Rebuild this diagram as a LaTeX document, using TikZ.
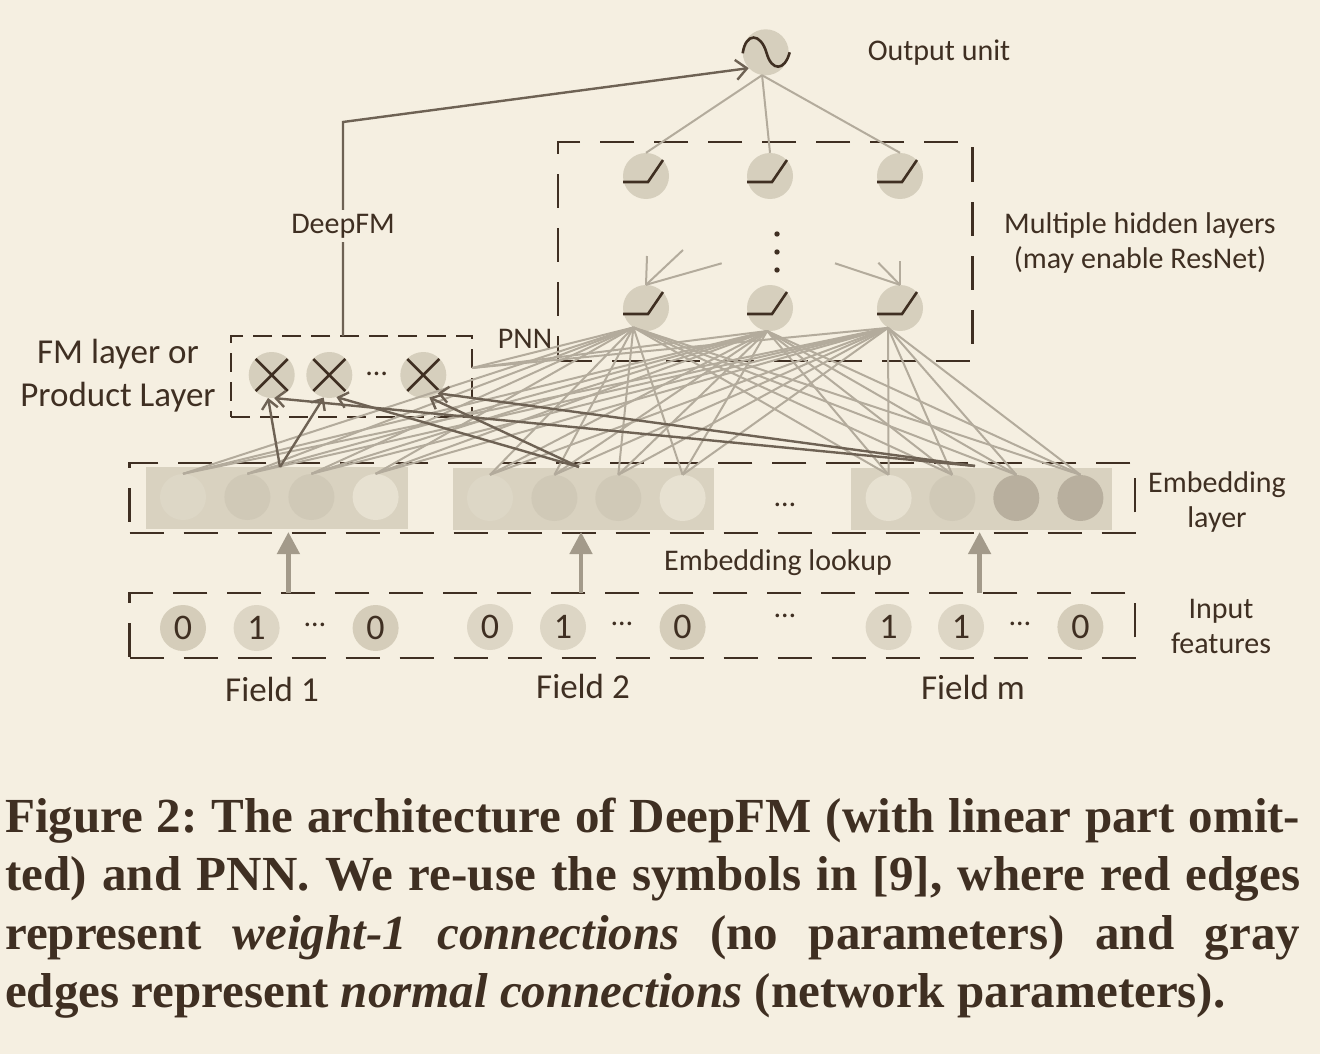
\documentclass[tikz,border=0pt]{standalone}
\usepackage{fontspec}
\setmainfont{Liberation Serif}
\newfontfamily\diag{Carlito}
\usetikzlibrary{arrows.meta}
\definecolor{bg}{HTML}{F5EFE1}
\definecolor{ink}{HTML}{3F2F22}
\definecolor{edgec}{HTML}{B3AB9C}
\definecolor{darkc}{HTML}{6E6254}
\definecolor{unitc}{HTML}{D6CFBD}
\definecolor{slabc}{HTML}{D9D2C0}
\definecolor{lookc}{HTML}{A39A8A}
\definecolor{eA}{HTML}{DDD7C6}
\definecolor{eB}{HTML}{D0C9B7}
\definecolor{eC}{HTML}{E7E1D1}
\definecolor{eD}{HTML}{B8AF9E}
\definecolor{inA}{HTML}{D5CDBA}
\definecolor{inB}{HTML}{DDD6C5}
\begin{document}
\begin{tikzpicture}[x=1pt,y=-1pt,
  lbl/.style={font=\diag\fontsize{30}{35}\selectfont, text=ink, inner sep=0pt, align=center},
  biglbl/.style={font=\diag\fontsize{35}{43}\selectfont, text=ink, inner sep=0pt, align=center},
  neuron/.style={circle, fill=unitc, minimum size=46pt, inner sep=0pt},
  emb/.style={circle, minimum size=46pt, inner sep=0pt},
  inunit/.style={circle, minimum size=46pt, inner sep=0pt, font=\diag\fontsize{36}{36}\selectfont, text=ink},
  dotsnode/.style={font=\diag\fontsize{30}{30}\selectfont, text=ink, inner sep=0pt},
  dbox/.style={rectangle, draw=ink, line width=2.6pt, dash pattern=on 34pt off 20pt, inner sep=0pt},
  fmbox/.style={rectangle, draw=ink, line width=2.4pt, dash pattern=on 19pt off 10pt, inner sep=0pt},
  slab/.style={rectangle, fill=slabc, minimum width=262pt, minimum height=62pt, inner sep=0pt},
  gedge/.style={draw=edgec, line width=2pt},
  darr/.style={draw=darkc, line width=2.4pt, -{Straight Barb[length=9pt,width=16pt]}},
  dfmarr/.style={draw=darkc, line width=2.4pt, -{Straight Barb[length=11pt,width=20pt]}},
  lookarr/.style={draw=lookc, line width=4.6pt, -{Triangle[length=22pt,width=22pt]}},
  glyph/.style={draw=ink, line width=2.6pt},
]
\fill[bg] (0,0) rectangle (1320,1054);
\useasboundingbox (0,0) rectangle (1320,1054);

% dashed boxes
\node[dbox, minimum width=414.5pt, minimum height=219pt] (hbox) at (765.25,251.5) {};
\node[fmbox, minimum width=241pt, minimum height=81pt] (fm) at (351.5,376.5) {};
\node[dbox, minimum width=1005.4pt, minimum height=70pt] (ebox) at (632.3,498) {};
\node[dbox, minimum width=1005.4pt, minimum height=65pt] (ibox) at (632.3,625.5) {};

% embedding slabs and units
\node[slab] (s1) at (277,498) {};
\node[slab, minimum width=261pt] (s2) at (583.5,499) {};
\node[slab, minimum width=261pt] (sm) at (981.7,499) {};
\node[emb, fill=eA] (a1) at (183,497) {};
\node[emb, fill=eB] (a2) at (247.4,497) {};
\node[emb, fill=eB] (a3) at (311.4,497) {};
\node[emb, fill=eC] (a4) at (375.6,497) {};
\node[emb, fill=eA] (b1) at (490,498) {};
\node[emb, fill=eB] (b2) at (554.4,498) {};
\node[emb, fill=eB] (b3) at (618.3,498) {};
\node[emb, fill=eC] (b4) at (682.6,498) {};
\node[emb, fill=eC] (m1) at (888.6,498) {};
\node[emb, fill=eB] (m2) at (952.3,498) {};
\node[emb, fill=eD] (m3) at (1016.3,498) {};
\node[emb, fill=eD] (m4) at (1080.4,498) {};
\node[dotsnode] (edots) at (785,505) {…};

% input units
\node[inunit, fill=inA] (x11) at (183,628) {0};
\node[inunit, fill=inB] (x12) at (256.6,628) {1};
\node[dotsnode] (x1d) at (315,625) {…};
\node[inunit, fill=inA] (x13) at (375.6,628) {0};
\node[inunit, fill=inB] (x21) at (490,627) {0};
\node[inunit, fill=inB] (x22) at (563,627) {1};
\node[dotsnode] (x2d) at (622,624) {…};
\node[inunit, fill=inA] (x23) at (682.6,627) {0};
\node[dotsnode] (idots) at (785,616) {…};
\node[inunit, fill=inB] (xm1) at (888.6,627) {1};
\node[inunit, fill=inB] (xm2) at (961,627) {1};
\node[dotsnode] (xmd) at (1020,624) {…};
\node[inunit, fill=inA] (xm3) at (1080.4,627) {0};

% hidden, product and output neurons
\node[neuron] (out) at (765.7,52.3) {};
\node[neuron] (h11) at (646,176) {};
\node[neuron] (h12) at (770,176) {};
\node[neuron] (h13) at (900,176) {};
\node[neuron] (h21) at (646,308) {};
\node[neuron] (h22) at (770,308) {};
\node[neuron] (h23) at (900,308) {};
\node[neuron] (p1) at (271.7,375) {};
\node[neuron] (p2) at (329.3,375) {};
\node[neuron] (p3) at (423.3,375) {};
\node[dotsnode] (pdots) at (376.7,374) {…};

% glyphs
\begin{scope}[shift={(out.center)}]
  \draw[glyph] (-23,1) .. controls (-20,-20) and (-5,-20) .. (1,1) .. controls (6,19) and (19,19) .. (24,0);
\end{scope}
\foreach \n in {h11,h12,h13,h21,h22,h23}{
  \begin{scope}[shift={(\n.center)}]
    \draw[glyph] (-23,6) -- (2,6) -- (17,-16);
  \end{scope}
}
\foreach \n in {p1,p2,p3}{
  \begin{scope}[shift={(\n.center)}]
    \draw[glyph] (-16,-16) -- (16,16) (-16,16) -- (16,-16);
  \end{scope}
}
\fill[ink] (777,234) circle (2.7pt) (777,252) circle (2.7pt) (777,270) circle (2.7pt);

% gray edges: embeddings to first hidden layer
\coordinate (fmo) at (472,368);
\foreach \u in {a1,a2,a3,a4,b1,b2,b3,b4,m1,m2,m3,m4}{
  \draw[gedge] (\u.north) -- (h21.-123);
  \draw[gedge] (\u.north) -- (h22.-97);
  \draw[gedge] (\u.north) -- (h23.-121);
}
\draw[gedge] (fmo) -- (h21.-123);
\draw[gedge] (fmo) -- (h22.-97);
\draw[gedge] (fmo) -- (h23.-121);

% residual hints
\coordinate (r1) at (647,256);
\coordinate (r2) at (683,250);
\coordinate (r3) at (721.7,263.3);
\coordinate (r4) at (900,261);
\coordinate (r5) at (878.3,262.7);
\coordinate (r6) at (835,263.3);
\foreach \r in {r1,r2,r3} \draw[gedge] (\r) -- (h21.north);
\foreach \r in {r4,r5,r6} \draw[gedge] (\r) -- (h23.north);

% hidden to output
\draw[gedge] (h11.north) -- (out.-99);
\draw[gedge] (h12.north) -- (out.-99);
\draw[gedge] (h13.north) -- (out.-99);

% weight-1 edges to product layer
\coordinate (d1) at (280,467);
\coordinate (d2) at (579,467);
\coordinate (dm) at (975,466);
\draw[darr] (d1) -- (p1.-99);
\draw[darr] (d1) -- (p2.-104);
\draw[darr] (dm) -- (p1.-84);
\draw[darr] (d2) -- (p2.-72);
\draw[darr] (d2) -- (p3.-75);
\draw[darr] (dm) -- (p3.-52);

% DeepFM connection
\coordinate (fmtop) at (343,336);
\coordinate (dcorner) at (343,122);
\draw[dfmarr] (fmtop) -- (dcorner) -- (out.-137);
\node[lbl, fill=bg, inner sep=4pt] (dfl) at (343,226) {DeepFM};

% embedding lookup arrows
\coordinate (l1s) at (288.4,593);
\coordinate (l1e) at (288.4,532);
\coordinate (l2s) at (581,593);
\coordinate (l2e) at (581,532);
\coordinate (l3s) at (979.6,593);
\coordinate (l3e) at (979.6,532);
\draw[lookarr] (l1s) -- (l1e);
\draw[lookarr] (l2s) -- (l2e);
\draw[lookarr] (l3s) -- (l3e);

% labels
\node[lbl] (tout) at (939,53) {Output unit};
\node[lbl] (thid) at (1140,243) {Multiple hidden layers\\(may enable ResNet)};
\node[lbl] (tpnn) at (525,339) {PNN};
\node[biglbl] (tfm) at (118,375.5) {FM layer or\\Product Layer};
\node[lbl] (temb) at (1217,501.5) {Embedding\\layer};
\node[lbl] (tin) at (1221,626.5) {Input\\features};
\node[lbl] (tlook) at (778,563) {Embedding lookup};
\node[biglbl] (tf1) at (272,689) {Field 1};
\node[biglbl] (tf2) at (583,686) {Field 2};
\node[biglbl] (tfm2) at (973,687) {Field m};

% caption
\node[anchor=base west, inner sep=0pt, text=ink] (cap) at (5,832) {\parbox[t]{1295pt}{\fontsize{49}{58.5}\selectfont\bfseries\frenchspacing\hyphenpenalty=10000\exhyphenpenalty=10000\tolerance=10000
Figure 2: The architecture of DeepFM (with linear part omit-\linebreak
ted) and PNN. We re-use the symbols in [9], where red edges\linebreak
represent \textit{weight-1 connections} (no parameters) and gray\linebreak
edges represent \textit{normal connections} (network parameters).}};
\end{tikzpicture}
\end{document}
